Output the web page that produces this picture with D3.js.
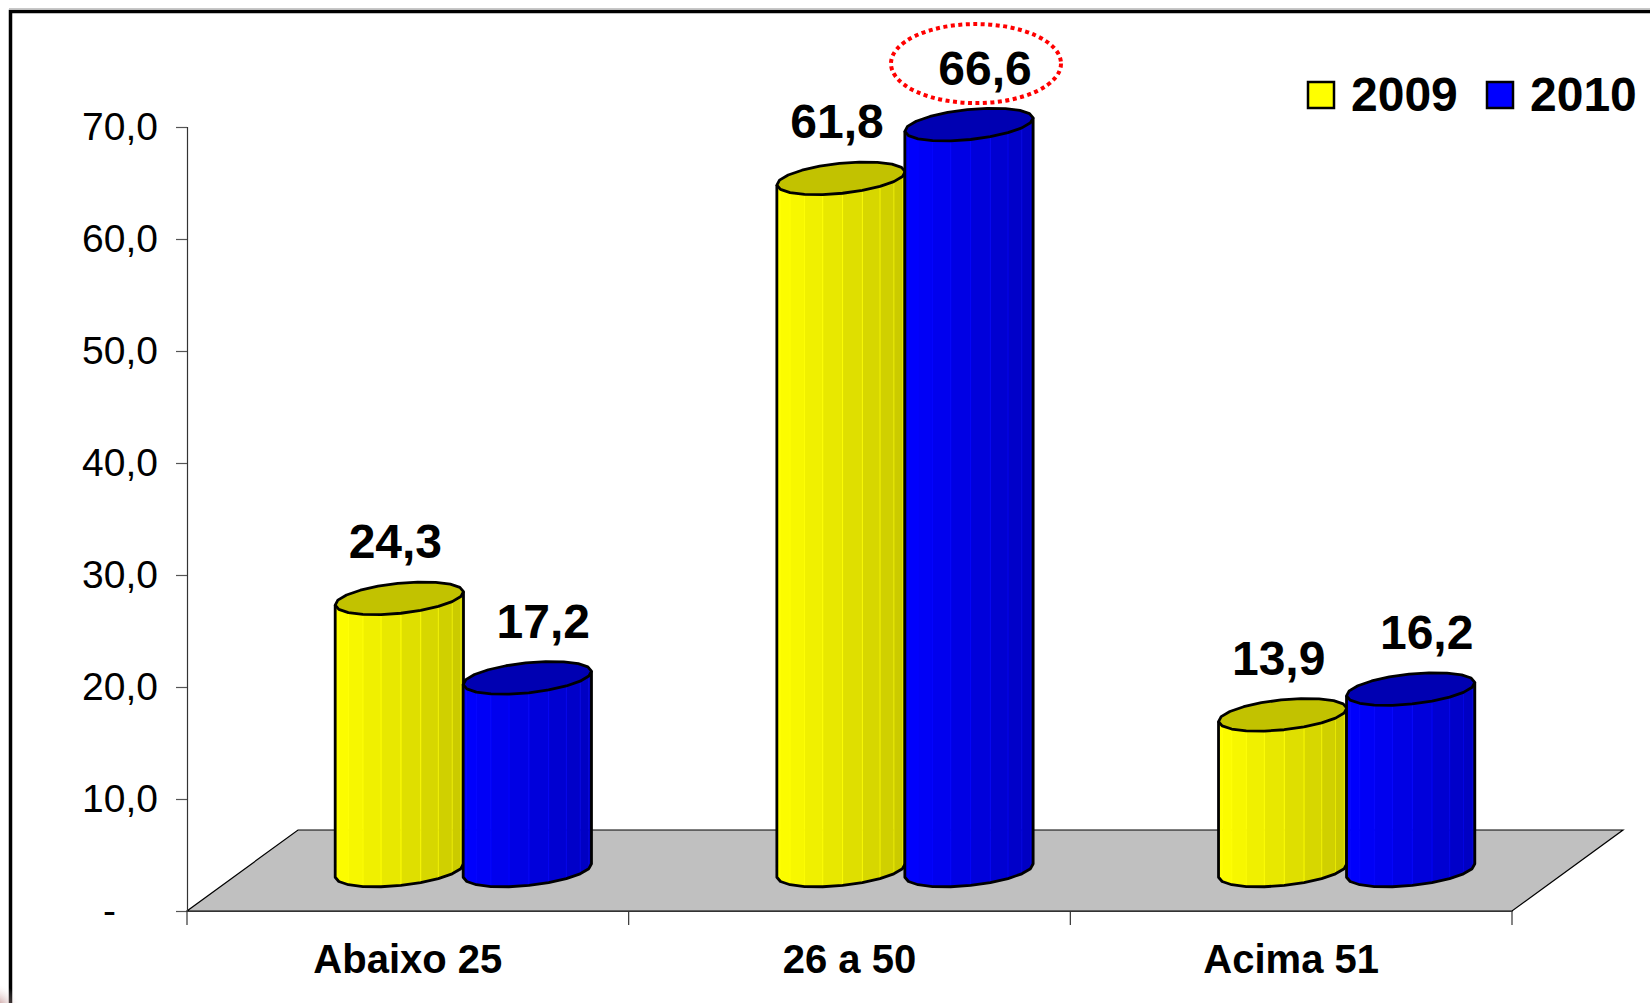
<!DOCTYPE html>
<html>
<head>
<meta charset="utf-8">
<script src="https://cdn.jsdelivr.net/npm/d3@7"></script>
<style>
  html, body { margin: 0; padding: 0; background: #fff; }
  svg { display: block; }
  text { font-family: Arial, "Liberation Sans", sans-serif; }
</style>
</head>
<body>
<svg id="chart" width="1650" height="1003"></svg>
<script>
// ---- data ----
const categories = ["Abaixo 25", "26 a 50", "Acima 51"];
const seriesNames = ["2009", "2010"];
const values2009 = [24.3, 61.8, 13.9];
const values2010 = [17.2, 66.6, 16.2];
const yTicks = [0, 10, 20, 30, 40, 50, 60, 70];
const seriesColors = {
  "2009": { light: "#FFFF00", dark: "#C8C800", top: "#C2C200", legend: "#FFFF00" },
  "2010": { light: "#0000FF", dark: "#0000C0", top: "#0000B2", legend: "#0000FF" }
};

const rows = [];
categories.forEach((c, i) => {
  rows.push({ cat: c, series: "2009", value: values2009[i] });
  rows.push({ cat: c, series: "2010", value: values2010[i] });
});

// ---- layout ----
const svg = d3.select("#chart");
const depthDX = 111, depthDY = -81;          // floor depth offset
const x0 = d3.scaleBand().domain(categories).range([187, 1512]).paddingInner(0).paddingOuter(0);
const x1 = d3.scaleBand().domain(seriesNames).range([0, x0.bandwidth()])
  .paddingInner(-0.0156).paddingOuter(0.7176);
const y = d3.scaleLinear().domain([0, 70]).range([911, 127]);

const fmt = v => v === 0 ? "-" : d3.format(".1f")(v).replace(".", ",");

// frame
svg.append("line").attr("x1", 9).attr("x2", 1650).attr("y1", 8.5).attr("y2", 8.5)
  .attr("stroke", "#c8c8c8").attr("stroke-width", 1);
svg.append("path").attr("d", "M10.5,1012 V11.5 H1660")
  .attr("fill", "none").attr("stroke", "#000").attr("stroke-width", 3.5);
// small decoration at bottom-left corner
const defs = svg.append("defs");
const rg = defs.append("radialGradient").attr("id", "cornerGrad");
rg.append("stop").attr("offset", "0%").attr("stop-color", "#7a1010").attr("stop-opacity", 0.9);
rg.append("stop").attr("offset", "100%").attr("stop-color", "#ffffff").attr("stop-opacity", 0);
svg.append("circle").attr("cx", -8).attr("cy", 1012).attr("r", 30).attr("fill", "url(#cornerGrad)");

// floor
const [fx0, fx1] = x0.range();
const fy = y(0);
svg.append("path")
  .attr("d", `M${fx0},${fy} L${fx1},${fy} L${fx1 + depthDX},${fy + depthDY} L${fx0 + depthDX},${fy + depthDY} Z`)
  .attr("fill", "#C0C0C0").attr("stroke", "#000").attr("stroke-width", 1.2);

// y axis
const yAxis = svg.append("g").attr("transform", `translate(${fx0},0)`)
  .call(d3.axisLeft(y).tickValues(yTicks).tickFormat(fmt).tickSize(11).tickPadding(18));
yAxis.select(".domain").attr("stroke", "#333").attr("stroke-width", 1.2);
yAxis.selectAll(".tick line").attr("stroke", "#555").attr("stroke-width", 1.2);
yAxis.selectAll(".tick text").attr("font-size", 39).attr("fill", "#000")
  .attr("font-family", "Arial, 'Liberation Sans', sans-serif");
yAxis.selectAll(".tick").filter(d => d === 0).select("text").attr("x", -71);

// x axis (labels at band centers, ticks at band boundaries)
const xAxis = svg.append("g").attr("transform", `translate(0,${fy})`)
  .call(d3.axisBottom(x0).tickSize(0).tickPadding(0));
xAxis.select(".domain").attr("stroke", "#333").attr("stroke-width", 1.2);
xAxis.selectAll(".tick text").attr("font-size", 40).attr("font-weight", "bold").attr("fill", "#000")
  .attr("y", 62).attr("dy", 0)
  .attr("font-family", "Arial, 'Liberation Sans', sans-serif");
const bounds = categories.map(c => x0(c)).concat([fx1]);
svg.append("g").selectAll("line").data(bounds).join("line")
  .attr("x1", d => d).attr("x2", d => d).attr("y1", fy).attr("y2", fy + 14)
  .attr("stroke", "#333").attr("stroke-width", 1.2);

// cylinders
const a = 64.5, b = 15, theta = -6 * Math.PI / 180, N = 20;
function ept(cx, cy, phi) {
  return [cx + a * Math.cos(phi) * Math.cos(theta) - b * Math.sin(phi) * Math.sin(theta),
          cy + a * Math.cos(phi) * Math.sin(theta) + b * Math.sin(phi) * Math.cos(theta)];
}
const lineGen = d3.line();
const barsG = svg.append("g");
rows.forEach(r => {
  const col = seriesColors[r.series];
  const cx = x0(r.cat) + x1(r.series) + x1.bandwidth() / 2 + depthDX / 2;
  const yB = y(0) + depthDY / 2;
  const yT = y(r.value) + depthDY / 2;
  r.cx = cx; r.yT = yT;
  const g = barsG.append("g");
  const interp = d3.interpolateRgb(col.light, col.dark);
  // side facets (front half: phi 0..PI)
  for (let k = 0; k < N / 2; k++) {
    const p0 = k * 2 * Math.PI / N, p1 = (k + 1) * 2 * Math.PI / N;
    const pm = (p0 + p1) / 2;
    const t = 1 - (Math.cos(pm) + 1) / 2;   // 0 at left, 1 at right -> reversed below
    const fill = interp(1 - t);
    const pts = [ept(cx, yT, p0), ept(cx, yT, p1), ept(cx, yB, p1), ept(cx, yB, p0)];
    g.append("path").attr("d", lineGen(pts) + "Z").attr("fill", fill)
      .attr("stroke", d3.color(fill).brighter(0.35)).attr("stroke-width", 0.8);
  }
  // top
  const topPts = d3.range(N).map(k => ept(cx, yT, k * 2 * Math.PI / N));
  g.append("path").attr("d", lineGen(topPts) + "Z").attr("fill", col.top)
    .attr("stroke", "#000").attr("stroke-width", 2.8).attr("stroke-linejoin", "round");
  // silhouette
  const sil = [ept(cx, yT, Math.PI)];
  for (let k = N / 2; k >= 0; k--) sil.push(ept(cx, yB, k * 2 * Math.PI / N));
  sil.push(ept(cx, yT, 0));
  g.append("path").attr("d", lineGen(sil)).attr("fill", "none")
    .attr("stroke", "#000").attr("stroke-width", 2.8).attr("stroke-linejoin", "round");
});

// value labels
const labelDX = { "2009": -4, "2010": 16 };
svg.append("g").selectAll("text").data(rows).join("text")
  .attr("x", d => d.cx + labelDX[d.series])
  .attr("y", d => d.yT - 40)
  .attr("text-anchor", "middle").attr("font-size", 48).attr("font-weight", "bold")
  .attr("fill", "#000").text(d => fmt(d.value));

// red dotted highlight around maximum
const maxRow = rows.reduce((m, r) => r.value > m.value ? r : m, rows[0]);
svg.append("ellipse")
  .attr("cx", maxRow.cx + labelDX[maxRow.series] - 9)
  .attr("cy", maxRow.yT - 40 - 21)
  .attr("rx", 85).attr("ry", 39.5)
  .attr("fill", "none").attr("stroke", "#FF0000").attr("stroke-width", 4)
  .attr("stroke-dasharray", "4 3.5");

// legend
const legend = svg.append("g").attr("transform", "translate(1308,82)");
const li = legend.selectAll("g").data(seriesNames).join("g")
  .attr("transform", (d, i) => `translate(${i * 179},0)`);
li.append("rect").attr("width", 26).attr("height", 26)
  .attr("fill", d => seriesColors[d].legend).attr("stroke", "#000").attr("stroke-width", 2.5);
li.append("text").attr("x", 43).attr("y", 29).attr("font-size", 48).attr("font-weight", "bold")
  .attr("fill", "#000").text(d => d);
</script>
</body>
</html>
